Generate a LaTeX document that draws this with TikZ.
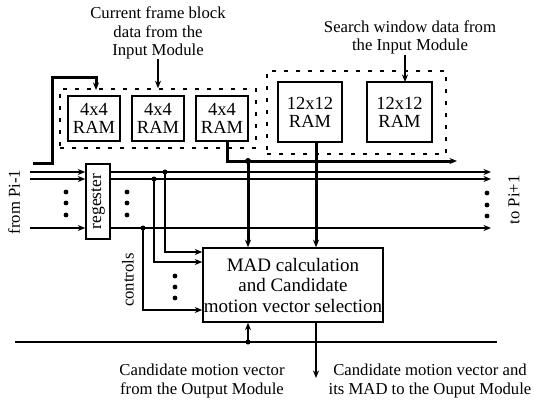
\documentclass[tikz,border=0pt]{standalone}
\usepackage{fontspec}
\setmainfont{Liberation Serif}
\usetikzlibrary{arrows.meta,calc}
\begin{document}
\begin{tikzpicture}[x=1pt,y=-1pt,
  thinl/.style={line width=1.4pt},
  thickl/.style={line width=3pt},
  medl/.style={line width=2.4pt},
  arr/.style={-{Stealth[length=7.5pt,width=6pt]}},
  box/.style={draw,line width=1.5pt,inner sep=0pt,align=center},
  dbox/.style={draw,line width=1.5pt,dash pattern=on 4pt off 8pt,inner sep=0pt},
  lab/.style={font=\fontsize{16.7}{18.5}\selectfont,align=center,inner sep=0pt},
  ramf/.style={font=\fontsize{18.5}{18}\selectfont},
  dot/.style={circle,fill,inner sep=0pt,minimum size=5pt}
]
\useasboundingbox (0,0) rectangle (534,402);

% dashed groups
\node[dbox,minimum width=196pt,minimum height=59pt] (cf) at (158,118.5) {};
\node[dbox,minimum width=179pt,minimum height=83pt] (sw) at (356.5,112.5) {};

% RAMs
\node[box,ramf,minimum width=52pt,minimum height=45pt] (r1) at (94,118.5) {4x4\\RAM};
\node[box,ramf,minimum width=52pt,minimum height=45pt] (r2) at (158,118.5) {4x4\\RAM};
\node[box,ramf,minimum width=52pt,minimum height=45pt] (r3) at (222,118.5) {4x4\\RAM};
\node[box,ramf,minimum width=64pt,minimum height=60pt] (ra) at (310,112) {12x12\\RAM};
\node[box,ramf,minimum width=65pt,minimum height=60pt] (rb) at (399.5,112) {12x12\\RAM};

% labels
\node[lab] (t1) at (158,33) {Current frame block\\data from the\\Input Module};
\node[lab] (t2) at (410,37.5) {Search window data from\\the Input Module};
\node[lab] (t3) at (202,381) {Candidate motion vector\\from the Output Module};
\node[lab] (t4) at (430,381) {Candidate motion vector and\\its MAD to the Ouput Module};
\node[lab,rotate=90] (t5) at (14,202) {from Pi-1};
\node[lab,rotate=90] (t6) at (514,200) {to Pi+1};
\node[lab,rotate=90] (t7) at (128,280) {controls};

% register
\node[box,minimum width=24pt,minimum height=75pt] (reg) at (98,201.5) {};
\node[lab,rotate=90,font=\fontsize{17.5}{18}\selectfont] (regl) at (reg.center) {regester};

% MAD box
\node[box,minimum width=180pt,minimum height=74pt,font=\fontsize{19}{20.5}\selectfont] (mad) at (293,285) {MAD calculation\\and Candidate\\motion vector selection};

% input arrows
\draw[medl,arr] (t1.south) -- (cf.north);
\coordinate (s2) at (405,82);
\draw[medl,arr] (s2 |- t2.south) -- (s2);
\coordinate (fb) at (33,163);
\coordinate (fbt) at (96,90);
\draw[thickl,arr] (fb) -- (52,163) -- (52,77) -- (96,77) -- (fbt);

% bus lines
\foreach \yy/\n in {172/a,179/b,228/c}{
  \coordinate (L\n) at (30,\yy);
  \coordinate (R\n) at (491,\yy);
  \draw[thinl,arr] (L\n) -- (L\n -| reg.west);
  \draw[thinl,arr] (L\n -| reg.east) -- (R\n);
}

% RAM3 output bus
\coordinate (o3) at (227,161);
\coordinate (o3e) at (457,161);
\coordinate (j3) at (248,161);
\draw[thickl,arr] ([xshift=5pt]r3.south) -- (o3) -- (o3e);
\node[dot,minimum size=6pt] (dj3) at (j3) {};
\draw[thickl,arr] (j3) -- (j3 |- mad.north);
% 12x12 output
\coordinate (o12) at (316,142);
\draw[thickl,arr] (o12) -- (o12 |- mad.north);

% taps
\coordinate (ta) at (165,172);
\coordinate (tb) at (154,179);
\coordinate (tc) at (143,228);
\node[dot] (da) at (ta) {};
\node[dot] (db) at (tb) {};
\node[dot] (dc) at (tc) {};
\draw[thinl,arr] (ta) -- (165,252) -- (mad.west |- 0,252);
\draw[thinl,arr] (tb) -- (154,262) -- (mad.west |- 0,262);
\draw[thinl,arr] (tc) -- (143,310) -- (mad.west |- 0,310);

% dots
\foreach \x/\ys in {66/{192,203,215},127/{192,203,215},487/{193,205,216},175/{276,287,298}}{
  \foreach \y in \ys { \fill (\x,\y) circle (2.4pt); }
}

% bottom line
\coordinate (bl) at (15,342);
\coordinate (br) at (497,342);
\draw[medl] (bl) -- (br);
\coordinate (up) at (248,342);
\node[dot] (dup) at (up) {};
\draw[medl,arr] (up) -- (up |- mad.south);
\coordinate (dn) at (316,378);
\draw[medl,arr] (dn |- mad.south) -- (dn);
\end{tikzpicture}
\end{document}
